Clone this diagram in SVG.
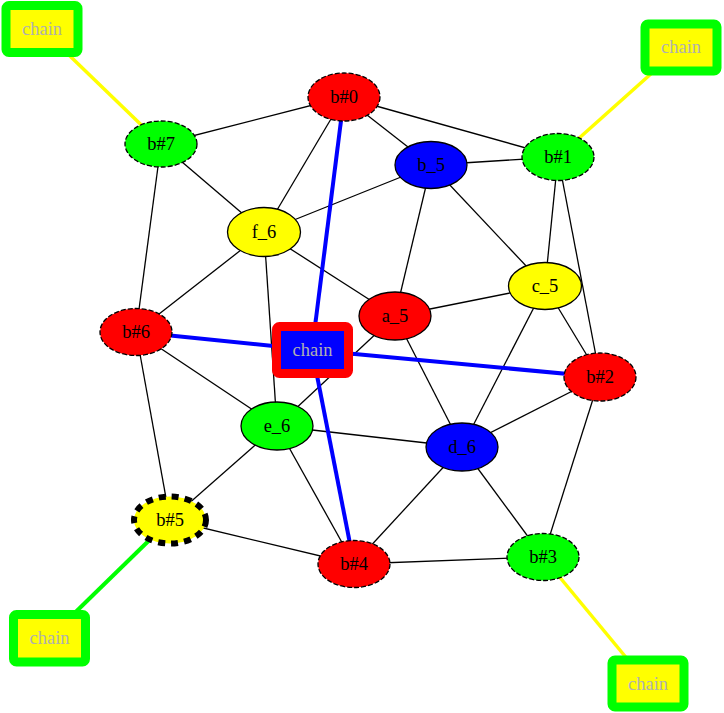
<svg xmlns="http://www.w3.org/2000/svg" width="724" height="713" viewBox="0 0 724 713">
<style>
.e{stroke:#000;stroke-width:1.3;fill:none}
.n{stroke:#000;stroke-width:1.3}
.d{stroke-dasharray:5,2}
.t{font-family:"Liberation Serif","Times New Roman",serif;font-size:18.5px;text-anchor:middle;dominant-baseline:central;fill:#000}
.c{font-family:"Liberation Serif","Times New Roman",serif;font-size:18.5px;text-anchor:middle;dominant-baseline:central;fill:#b0b0b0}
.ch{fill:#ffff00;stroke:#00ff00;stroke-width:9}
</style>
<rect width="724" height="713" fill="#fff"/>
<g id="connectors">
<line class="e" x1="344" y1="97" x2="161" y2="144"/>
<line class="e" x1="344" y1="97" x2="431" y2="165"/>
<line class="e" x1="344" y1="97" x2="558" y2="157"/>
<line class="e" x1="344" y1="97" x2="264" y2="232"/>
<line class="e" x1="161" y1="144" x2="264" y2="232"/>
<line class="e" x1="161" y1="144" x2="136" y2="332"/>
<line class="e" x1="431" y1="165" x2="558" y2="157"/>
<line class="e" x1="431" y1="165" x2="264" y2="232"/>
<line class="e" x1="431" y1="165" x2="395" y2="316"/>
<line class="e" x1="431" y1="165" x2="545" y2="286"/>
<line class="e" x1="558" y1="157" x2="545" y2="286"/>
<line class="e" x1="558" y1="157" x2="600" y2="377"/>
<line class="e" x1="264" y1="232" x2="395" y2="316"/>
<line class="e" x1="264" y1="232" x2="136" y2="332"/>
<line class="e" x1="264" y1="232" x2="277" y2="426"/>
<line class="e" x1="545" y1="286" x2="395" y2="316"/>
<line class="e" x1="545" y1="286" x2="600" y2="377"/>
<line class="e" x1="545" y1="286" x2="462" y2="447"/>
<line class="e" x1="395" y1="316" x2="462" y2="447"/>
<line class="e" x1="395" y1="316" x2="277" y2="426"/>
<line class="e" x1="136" y1="332" x2="277" y2="426"/>
<line class="e" x1="136" y1="332" x2="170" y2="520"/>
<line class="e" x1="600" y1="377" x2="462" y2="447"/>
<line class="e" x1="600" y1="377" x2="543" y2="557"/>
<line class="e" x1="277" y1="426" x2="462" y2="447"/>
<line class="e" x1="277" y1="426" x2="170" y2="520"/>
<line class="e" x1="277" y1="426" x2="354" y2="564"/>
<line class="e" x1="462" y1="447" x2="354" y2="564"/>
<line class="e" x1="462" y1="447" x2="543" y2="557"/>
<line class="e" x1="170" y1="520" x2="354" y2="564"/>
<line class="e" x1="354" y1="564" x2="543" y2="557"/>
<g stroke="#0000ff" stroke-width="4">
<line x1="312" y1="350" x2="344" y2="97"/>
<line x1="312" y1="350" x2="136" y2="332"/>
<line x1="312" y1="350" x2="600" y2="377"/>
<line x1="312" y1="350" x2="354" y2="564"/>
</g>
<g stroke="#ffff00" stroke-width="3.5">
<line x1="42" y1="29" x2="161" y2="144"/>
<line x1="681" y1="47" x2="558" y2="157"/>
<line x1="648" y1="684" x2="543" y2="557"/>
</g>
<line x1="49" y1="638" x2="170" y2="520" stroke="#00ff00" stroke-width="4"/>
</g>
<g id="chain_tl"><rect class="ch" x="6" y="5.5" width="72" height="47" rx="3"/><text class="c" x="42" y="29">chain</text></g>
<g id="chain_tr"><rect class="ch" x="645" y="24" width="72" height="47" rx="3"/><text class="c" x="681" y="47">chain</text></g>
<g id="chain_bl"><rect class="ch" x="13.5" y="614.5" width="72" height="47.5" rx="3"/><text class="c" x="49.5" y="638">chain</text></g>
<g id="chain_br"><rect class="ch" x="612" y="660" width="72" height="47" rx="3"/><text class="c" x="648" y="684">chain</text></g>
<g id="chain_c"><rect x="276.5" y="326.5" width="72" height="47" rx="3" fill="#0000ff" stroke="#ff0000" stroke-width="9"/><text class="c" x="312.5" y="350">chain</text></g>
<g id="b0"><ellipse class="n d" cx="344" cy="97" rx="36" ry="24" fill="#ff0000"/><text class="t" x="344" y="97">b#0</text></g>
<g id="b7"><ellipse class="n d" cx="161" cy="144" rx="36" ry="23" fill="#00ff00"/><text class="t" x="161" y="144">b#7</text></g>
<g id="b_5"><ellipse class="n" cx="431" cy="165" rx="36" ry="23.5" fill="#0000ff"/><text class="t" x="431" y="165">b_5</text></g>
<g id="b1"><ellipse class="n d" cx="558" cy="157" rx="36" ry="23.5" fill="#00ff00"/><text class="t" x="558" y="157">b#1</text></g>
<g id="f_6"><ellipse class="n" cx="264" cy="232" rx="36.5" ry="24.5" fill="#ffff00"/><text class="t" x="264" y="232">f_6</text></g>
<g id="c_5"><ellipse class="n" cx="545" cy="286" rx="36.5" ry="23.5" fill="#ffff00"/><text class="t" x="545" y="286">c_5</text></g>
<g id="a_5"><ellipse class="n" cx="395" cy="316" rx="36" ry="24" fill="#ff0000"/><text class="t" x="395" y="316">a_5</text></g>
<g id="b6"><ellipse class="n d" cx="136" cy="332" rx="36" ry="23.5" fill="#ff0000"/><text class="t" x="136" y="332">b#6</text></g>
<g id="b2"><ellipse class="n d" cx="600" cy="377" rx="36" ry="24" fill="#ff0000"/><text class="t" x="600" y="377">b#2</text></g>
<g id="e_6"><ellipse class="n" cx="277" cy="426" rx="36" ry="24" fill="#00ff00"/><text class="t" x="277" y="426">e_6</text></g>
<g id="d_6"><ellipse class="n" cx="462" cy="447" rx="36" ry="24" fill="#0000ff"/><text class="t" x="462" y="447">d_6</text></g>
<g id="b5"><ellipse cx="170" cy="520" rx="36" ry="23.5" fill="#ffff00" stroke="#000" stroke-width="6" stroke-dasharray="7,6"/><text class="t" x="170" y="520">b#5</text></g>
<g id="b4"><ellipse class="n d" cx="354" cy="564" rx="36" ry="23.5" fill="#ff0000"/><text class="t" x="354" y="564">b#4</text></g>
<g id="b3"><ellipse class="n d" cx="543" cy="557" rx="36" ry="23.5" fill="#00ff00"/><text class="t" x="543" y="557">b#3</text></g>
</svg>
